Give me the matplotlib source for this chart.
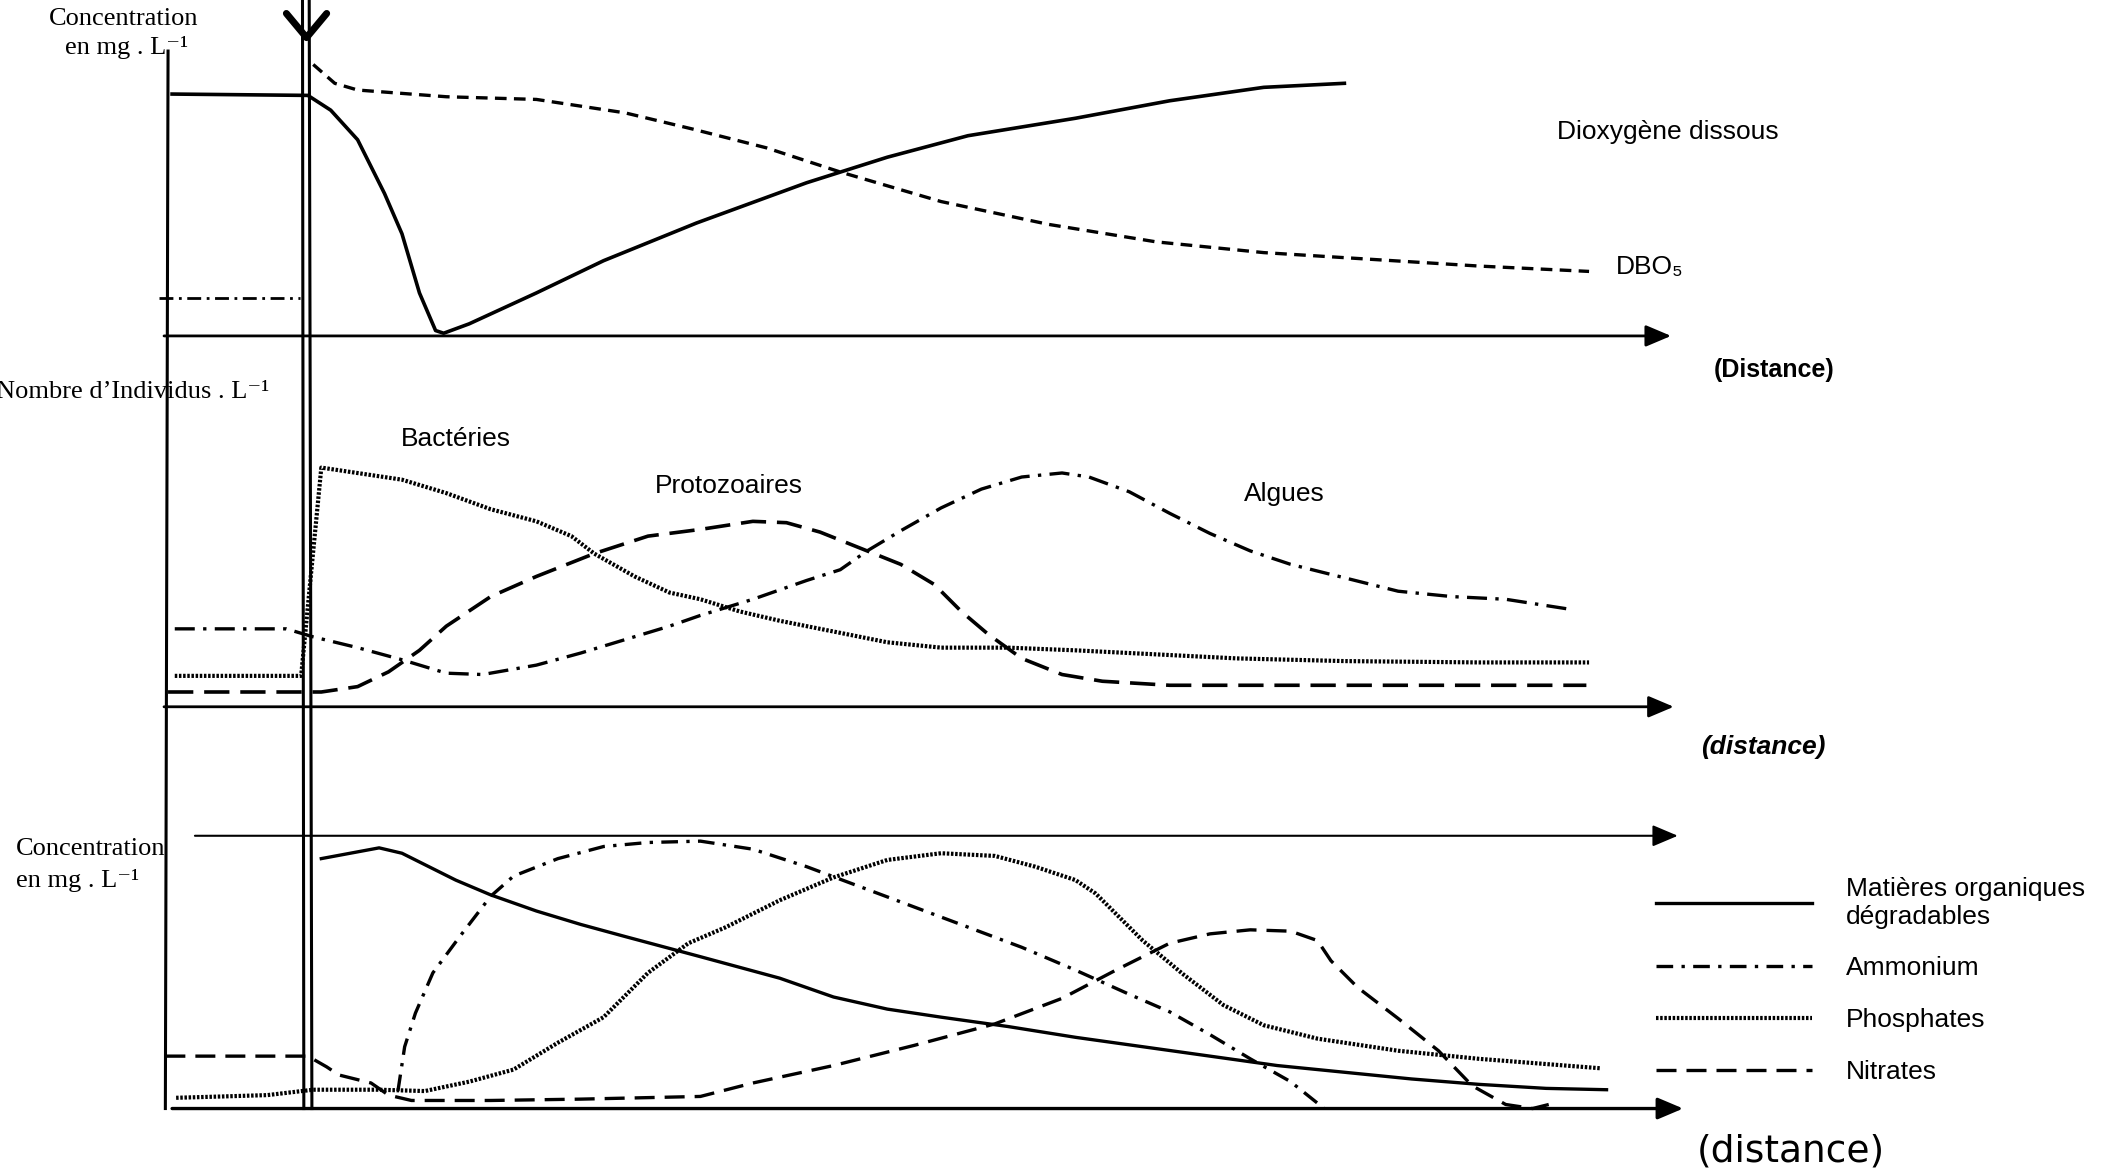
import matplotlib.pyplot as plt

# distances in arbitrary units (0 = origin, rejet ~ 103), values in arbitrary units

# --- panel 1 : dioxygene dissous / DBO5
o2_dist = [3, 104, 121, 141, 161, 174, 187, 199, 205, 224, 274, 324, 393, 475, 535, 595, 675, 745, 815, 875]
o2_val = [180, 179, 168, 146, 106, 76, 32, 4, 2, 9, 32, 56, 84, 114, 133, 149, 162, 175, 185, 188]

dbo_dist = [108, 124, 141, 207, 274, 340, 390, 445, 500, 575, 655, 735, 815, 895, 975, 1057]
dbo_val = [202, 188, 183, 178, 176, 166, 154, 140, 122, 100, 83, 70, 62, 57, 52, 48]

dbo_amont_dist = [-7, 98]
dbo_amont_val = [28, 28]

# --- panel 2 : individus
bact_dist = [5, 99, 114, 174, 207, 240, 274, 300, 317, 347, 373, 396, 425, 455, 495, 535,
             575, 625, 675, 735, 795, 875, 975, 1057]
bact_val = [23, 23, 178, 169, 159, 147, 138, 127, 114, 97, 85, 80, 71, 64, 56, 48,
            44, 44, 42, 39, 36, 34, 33, 33]

proto_dist = [0, 104, 114, 141, 164, 187, 207, 240, 274, 317, 357, 396, 435, 460, 485, 515,
              545, 570, 590, 610, 635, 665, 695, 745, 825, 925, 1055]
proto_val = [11, 11, 11, 15, 26, 42, 60, 82, 97, 114, 127, 132, 138, 137, 130, 118,
             106, 91, 71, 54, 36, 24, 19, 16, 16, 16, 16]

algues_dist = [5, 88, 98, 108, 141, 174, 207, 234, 274, 307, 340, 373, 396, 435, 475, 500,
               520, 545, 575, 605, 635, 665, 685, 715, 745, 775, 805, 835, 875, 915, 955, 995, 1040]
algues_val = [58, 58, 55, 52, 44, 35, 25, 24, 31, 40, 50, 60, 68, 80, 94, 102,
              116, 131, 148, 162, 171, 174, 171, 160, 144, 129, 116, 106, 96, 86, 82, 80, 73]

# --- panel 3 : concentrations
mo_dist = [114, 157, 174, 214, 240, 274, 307, 340, 396, 455, 495, 535, 575, 625, 675, 725,
           775, 825, 875, 925, 975, 1025, 1070]
mo_val = [186, 194, 190, 170, 159, 147, 137, 128, 113, 97, 83, 74, 68, 61, 53, 46,
          39, 32, 27, 22, 18, 15, 14]

nh4_dist = [171, 176, 184, 197, 217, 240, 257, 290, 324, 357, 396, 435, 475, 515, 555, 595,
            635, 675, 715, 745, 775, 805, 835, 860]
nh4_val = [13, 46, 71, 101, 128, 158, 173, 186, 195, 198, 199, 193, 180, 165, 150, 135,
           120, 103, 85, 72, 55, 37, 20, 0]

po4_dist = [6, 41, 74, 108, 157, 191, 224, 257, 290, 324, 357, 387, 415, 455, 495, 535,
            575, 615, 645, 675, 690, 705, 725, 755, 785, 815, 855, 915, 975, 1065]
po4_val = [8, 9, 10, 14, 14, 13, 20, 29, 49, 68, 101, 123, 135, 155, 172, 185,
           190, 188, 180, 170, 160, 145, 125, 100, 77, 62, 52, 43, 37, 30]

no3_dist = [-2, 104, 118, 127, 151, 164, 181, 240, 307, 396, 435, 495, 555, 615, 665, 705,
            745, 775, 805, 835, 855, 865, 885, 915, 945, 970, 995, 1015, 1027]
no3_val = [39, 39, 31, 25, 19, 10, 6, 6, 7, 9, 19, 32, 47, 63, 82, 103,
           123, 130, 133, 132, 125, 110, 90, 67, 43, 17, 3, 0, 3]

labels_p3 = ["Matières organiques\ndégradables", "Ammonium", "Phosphates", "Nitrates"]

W, H = 1568, 870
serif = ["Liberation Serif", "DejaVu Serif"]
sans = ["Liberation Sans", "DejaVu Sans"]
fs = 19

fig = plt.figure(figsize=(21.08, 11.69), dpi=100)

# background axes for the long vertical lines
bg = fig.add_axes([0, 0, 1, 1])
bg.set_xlim(-125, W - 125)
bg.set_ylim(0, H)
bg.axis("off")
bg.plot([0, -2], [H - 38, H - 825], c="k", lw=2.2)
bg.plot([100, 101], [H, H - 825], c="k", lw=2.2)
bg.plot([105, 107], [H, H - 825], c="k", lw=2.2)
bg.plot([88, 103, 118], [H - 10, H - 28, H - 10], c="k", lw=5, solid_capstyle="round")


def panel(bottom):
    ax = fig.add_axes([0, (H - bottom) / H, 1, 250 / H])
    ax.set_xlim(-125, W - 125)
    ax.set_ylim(0, 250)
    ax.axis("off")
    return ax


def axis_arrow(ax, x0, x1, y, lw=2):
    ax.annotate("", xy=(x1, y), xytext=(x0, y), annotation_clip=False,
                arrowprops=dict(arrowstyle="-|>,head_length=1.3,head_width=0.55",
                                lw=lw, color="k", mutation_scale=12,
                                shrinkA=0, shrinkB=0))


# ---------------- panel 1
ax1 = panel(250)
ax1.plot(o2_dist, o2_val, c="k", lw=2.6, clip_on=False)
ax1.plot(dbo_dist, dbo_val, c="k", lw=2.4, ls=(0, (3.5, 2.2)), clip_on=False)
ax1.plot(dbo_amont_dist, dbo_amont_val, c="k", lw=2, ls=(0, (5, 2, 1, 2)), clip_on=False)
axis_arrow(ax1, -3, 1118, 0)
ax1.text(-89, 236, "Concentration", family=serif, fontsize=fs, va="center")
ax1.text(-77, 215, "en mg . L⁻¹", family=serif, fontsize=fs, va="center")
ax1.text(1033, 152, "Dioxygène dissous", family=sans, fontsize=fs, va="center")
ax1.text(1077, 51, "DBO₅", family=sans, fontsize=fs, va="center")
ax1.text(1150, -25, "(Distance)", family=sans, fontsize=18, weight="bold", va="center")

# ---------------- panel 2
ax2 = panel(526)
ax2.plot(bact_dist, bact_val, c="k", lw=3, ls=(0, (0.6, 0.4)), clip_on=False)
ax2.plot(proto_dist, proto_val, c="k", lw=2.6, ls=(0, (7, 3)), clip_on=False)
ax2.plot(algues_dist, algues_val, c="k", lw=2.4, ls=(0, (6, 2.5, 1, 2.5)), clip_on=False)
axis_arrow(ax2, -3, 1120, 0)
ax2.text(-128, 234, "Nombre d’Individus . L⁻¹", family=serif, fontsize=fs, va="center")
ax2.text(173, 199, "Bactéries", family=sans, fontsize=fs, va="center")
ax2.text(362, 164, "Protozoaires", family=sans, fontsize=fs, va="center")
ax2.text(800, 158, "Algues", family=sans, fontsize=fs, va="center")
ax2.text(1140, -30, "(distance)", family=sans, fontsize=19, weight="bold",
         style="italic", va="center")

# ---------------- panel 3
ax3 = panel(825)
l1, = ax3.plot(mo_dist, mo_val, c="k", lw=2.4, clip_on=False)
l2, = ax3.plot(nh4_dist, nh4_val, c="k", lw=2.4, ls=(0, (5, 2.5, 1, 2.5)), clip_on=False)
l3, = ax3.plot(po4_dist, po4_val, c="k", lw=3, ls=(0, (0.6, 0.4)), clip_on=False)
l4, = ax3.plot(no3_dist, no3_val, c="k", lw=2.4, ls=(0, (6, 3)), clip_on=False)
axis_arrow(ax3, 20, 1123, 203, lw=1.5)
axis_arrow(ax3, 3, 1127, 0, lw=2.4)
ax3.text(-113, 193, "Concentration", family=serif, fontsize=fs, va="center")
ax3.text(-113, 170, "en mg . L⁻¹", family=serif, fontsize=fs, va="center")
ax3.text(1137, -32, "(distance)", family="DejaVu Sans", fontsize=27, va="center")

leg = ax3.legend([l1, l2, l3, l4], labels_p3, loc="upper left",
                 bbox_to_anchor=(1214 / W, 1 - 60 / 250), frameon=False,
                 prop={"family": sans, "size": fs}, handlelength=5.9,
                 handletextpad=1.3, labelspacing=1.05)

fig.savefig("out.png", dpi=100, facecolor="white")
